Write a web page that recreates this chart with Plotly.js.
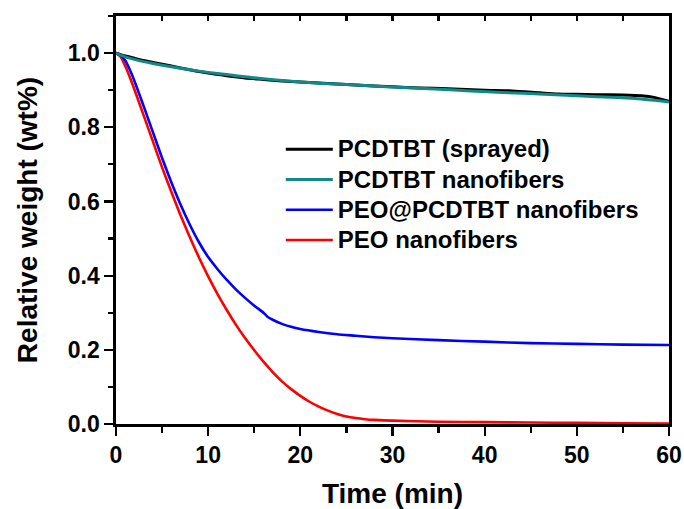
<!DOCTYPE html>
<html>
<head>
<meta charset="utf-8">
<script src="https://cdn.plot.ly/plotly-3.0.1.min.js"></script>
<style>
  html, body { margin: 0; padding: 0; background: #ffffff; }
  #chart { width: 684px; height: 509px; }
</style>
</head>
<body>
<div id="chart"></div>
<script>
// Relative weight (wt%) versus time (min) for four samples

const seriesNames = [
  'PCDTBT (sprayed)',
  'PCDTBT nanofibers',
  'PEO@PCDTBT nanofibers',
  'PEO nanofibers'
];

// PCDTBT (sprayed)
const timeSprayed = [0, 1, 2, 3, 4, 6, 8, 10, 12, 14, 16, 18, 20, 23, 26, 30, 33, 36, 40, 43, 46, 48, 50, 52, 55, 57, 58.5, 60];
const weightSprayed = [1.000, 0.992, 0.986, 0.980, 0.975, 0.965, 0.955, 0.946, 0.939, 0.933, 0.929, 0.925, 0.922, 0.918, 0.914, 0.909, 0.906, 0.904, 0.900, 0.898, 0.893, 0.890, 0.889, 0.888, 0.887, 0.885, 0.880, 0.870];

// PCDTBT nanofibers
const timeFibers = [0, 1, 2, 3, 4, 6, 8, 10, 12, 14, 16, 18, 20, 22.5, 25, 28, 30.5, 34, 38.5, 42, 46.5, 50, 54.5, 57, 60];
const weightFibers = [1.000, 0.990, 0.983, 0.977, 0.972, 0.963, 0.955, 0.948, 0.942, 0.936, 0.931, 0.926, 0.922, 0.918, 0.915, 0.911, 0.908, 0.904, 0.898, 0.894, 0.889, 0.885, 0.880, 0.876, 0.868];

// PEO@PCDTBT nanofibers
const timeCore = [0, 0.5, 1, 1.5, 2, 3, 4, 5, 6, 7, 8, 9, 10, 11, 12, 13, 14, 15, 16, 16.4, 17, 18, 19, 20, 22, 24, 26, 28, 30, 35, 40, 45, 50, 55, 60];
const weightCore = [1.000, 0.995, 0.980, 0.955, 0.925, 0.857, 0.787, 0.717, 0.652, 0.592, 0.538, 0.490, 0.450, 0.418, 0.389, 0.363, 0.340, 0.319, 0.300, 0.290, 0.281, 0.270, 0.262, 0.256, 0.248, 0.242, 0.238, 0.234, 0.231, 0.226, 0.222, 0.218, 0.216, 0.214, 0.213];

// PEO nanofibers
const timePEO = [0, 0.5, 1, 1.5, 2, 3, 4, 5, 6, 7, 8, 9, 10, 11, 12, 13, 14, 15, 16, 17, 18, 19, 20, 21, 22, 23, 24, 25, 26, 27, 28, 30, 35, 40, 45, 50, 55, 60];
const weightPEO = [1.000, 0.990, 0.965, 0.935, 0.902, 0.832, 0.762, 0.692, 0.626, 0.563, 0.504, 0.449, 0.398, 0.351, 0.308, 0.268, 0.232, 0.199, 0.168, 0.140, 0.115, 0.094, 0.076, 0.060, 0.047, 0.036, 0.027, 0.020, 0.016, 0.013, 0.011, 0.009, 0.006, 0.005, 0.004, 0.003, 0.002, 0.001];

const xTickVals = [0, 10, 20, 30, 40, 50, 60];
const yTickVals = [0.0, 0.2, 0.4, 0.6, 0.8, 1.0];

const lineColors = ['#000000', '#0f8a86', '#0000ff', '#ff0000'];

const FONT = 'Arial, "Liberation Sans", sans-serif';

const xs = [timeSprayed, timeFibers, timeCore, timePEO];
const ys = [weightSprayed, weightFibers, weightCore, weightPEO];

// legend rows are spaced by the (smaller) legend font; the labels themselves are larger
const traces = seriesNames.map((name, i) => ({
  x: xs[i],
  y: ys[i],
  name: '<span style="font-size:24px">' + name + '</span>',
  legendrank: i + 1,
  type: 'scatter',
  mode: 'lines',
  line: { color: lineColors[i], width: i < 2 ? 3 : 2.6, shape: 'spline', smoothing: 0.6 }
}));

// Draw order: red and blue under the black / teal pair
const ordered = [traces[3], traces[2], traces[0], traces[1]];

const layout = {
  width: 684,
  height: 509,
  margin: { l: 116, r: 15, t: 16, b: 85 },
  paper_bgcolor: '#ffffff',
  plot_bgcolor: '#ffffff',
  font: { family: FONT, color: '#000000', size: 23, weight: 700 },
  showlegend: true,
  legend: {
    x: 0.298, xanchor: 'left',
    y: 0.723, yanchor: 'top',
    traceorder: 'normal',
    bgcolor: 'rgba(0,0,0,0)',
    borderwidth: 0,
    itemwidth: 47,
    font: { family: FONT, size: 21, weight: 700, color: '#000000' }
  },
  xaxis: {
    range: [0, 60],
    tickvals: xTickVals,
    ticktext: xTickVals.map(v => String(v)),
    ticks: 'outside',
    ticklen: 9,
    tickwidth: 2.2,
    tickcolor: '#000000',
    minor: { dtick: 5, tick0: 0, ticks: 'outside', ticklen: 6, tickwidth: 2.2, tickcolor: '#000000' },
    showline: true,
    linewidth: 2.6,
    linecolor: '#000000',
    mirror: true,
    showgrid: false,
    zeroline: false,
    tickfont: { family: FONT, size: 23, weight: 700 },
    title: { text: 'Time (min)', font: { family: FONT, size: 28, weight: 700 }, standoff: 16 }
  },
  xaxis2: {
    overlaying: 'x',
    side: 'top',
    range: [0, 60],
    dtick: 5,
    tick0: 0,
    ticks: 'inside',
    ticklen: 5,
    tickwidth: 2.2,
    tickcolor: '#000000',
    showticklabels: false,
    showline: false,
    showgrid: false,
    zeroline: false
  },
  yaxis: {
    range: [0, 1.1],
    tickvals: yTickVals,
    ticktext: yTickVals.map(v => v.toFixed(1)),
    ticks: 'outside',
    ticklen: 9,
    tickwidth: 2.2,
    tickcolor: '#000000',
    minor: { dtick: 0.1, tick0: 0, ticks: 'outside', ticklen: 5, tickwidth: 2.2, tickcolor: '#000000' },
    showline: true,
    linewidth: 2.6,
    linecolor: '#000000',
    mirror: true,
    showgrid: false,
    zeroline: false,
    tickfont: { family: FONT, size: 23, weight: 700 },
    title: { text: 'Relative weight (wt%)', font: { family: FONT, size: 28, weight: 700 }, standoff: 22 }
  }
};

// invisible carrier so the top tick axis is laid out
const topCarrier = {
  x: [0, 60], y: [null, null], xaxis: 'x2', yaxis: 'y',
  mode: 'lines', showlegend: false, hoverinfo: 'skip', line: { width: 0 }
};

Plotly.newPlot('chart', [...ordered, topCarrier], layout, { displayModeBar: false, staticPlot: true });
</script>
</body>
</html>
